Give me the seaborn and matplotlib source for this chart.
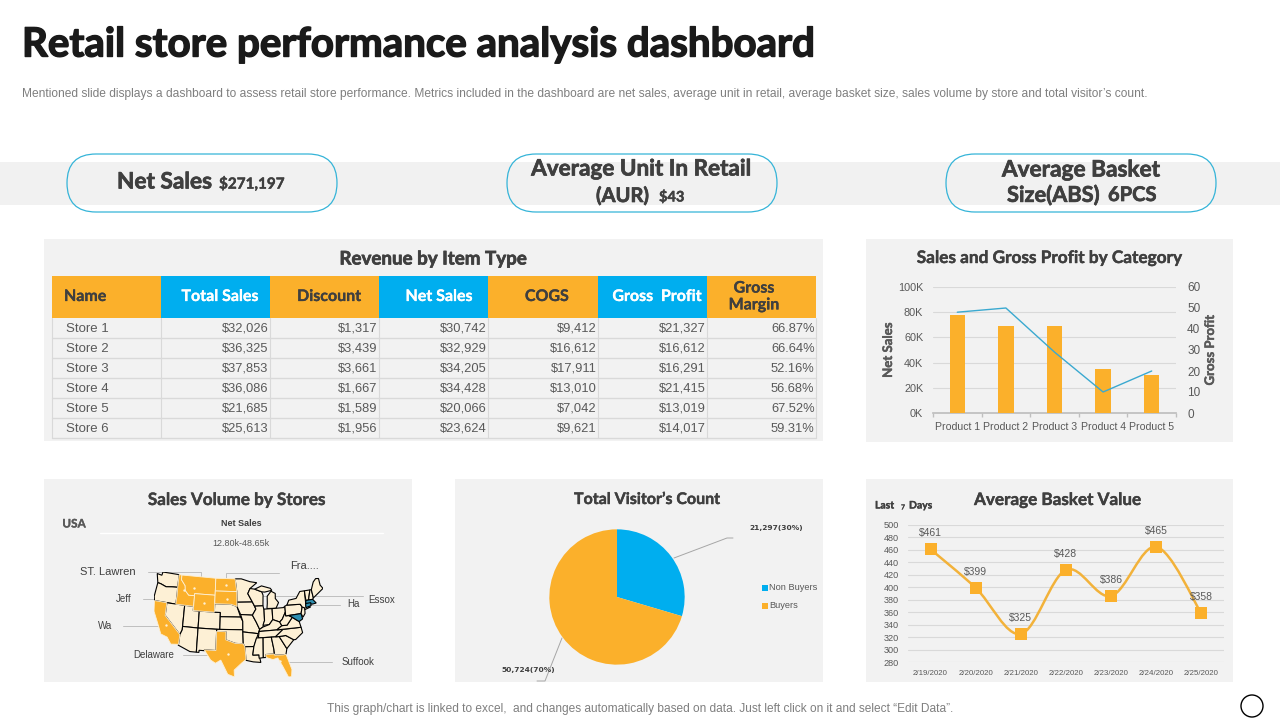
import numpy as np
import pandas as pd
import matplotlib
matplotlib.use("Agg")
import matplotlib.pyplot as plt
import matplotlib.patheffects as pe
from matplotlib.patches import Rectangle, FancyBboxPatch, PathPatch, Circle
from matplotlib.path import Path
import seaborn as sns

W, H = 1280, 720
ORANGE = "#fbb02b"
BLUE = "#00aeef"
PANEL = "#f2f2f2"
DARK = "#3f3f3f"
GREY = "#595959"
LIGHT = "#d9d9d9"
HEAD_FONT = "Lato"
BODY_FONT = "Liberation Sans"

# table
table_columns = ["Name", "Total Sales", "Discount", "Net Sales", "COGS", "Gross  Profit", "Gross\nMargin"]
stores = ["Store 1", "Store 2", "Store 3", "Store 4", "Store 5", "Store 6"]
total_sales = ["$32,026", "$36,325", "$37,853", "$36,086", "$21,685", "$25,613"]
discount = ["$1,317", "$3,439", "$3,661", "$1,667", "$1,589", "$1,956"]
net_sales_tbl = ["$30,742", "$32,929", "$34,205", "$34,428", "$20,066", "$23,624"]
cogs = ["$9,412", "$16,612", "$17,911", "$13,010", "$7,042", "$9,621"]
gross_profit_tbl = ["$21,327", "$16,612", "$16,291", "$21,415", "$13,019", "$14,017"]
gross_margin = ["66.87%", "66.64%", "52.16%", "56.68%", "67.52%", "59.31%"]

# combo chart
products = ["Product 1", "Product 2", "Product 3", "Product 4", "Product 5"]
net_sales = [78000, 69000, 69000, 35000, 30000]
gross_profit = [48, 50, 29, 10, 20]

# pie
visitor_labels = ["Non Buyers", "Buyers"]
visitor_counts = [21297, 50724]

# basket line
basket_dates = ["2/19/2020", "2/20/2020", "2/21/2020", "2/22/2020", "2/23/2020", "2/24/2020", "2/25/2020"]
basket_values = [461, 399, 325, 428, 386, 465, 358]

# rough state outlines, lon/lat
states = {
    "WA": [(-124.7,48.4),(-123,48.2),(-122.8,49),(-117,49),(-117,46),(-119,45.9),(-121,45.7),(-123,46.2),(-124,46.3)],
    "OR": [(-124,46.3),(-123,46.2),(-121,45.7),(-119,45.9),(-117,46),(-116.9,44.2),(-117,42),(-124.2,42),(-124.5,43)],
    "CA": [(-124.2,42),(-120,42),(-120,39),(-114.6,35),(-114.7,32.7),(-117.1,32.5),(-118.5,34),(-120.6,34.5),(-122,36.8),(-123.8,39.5)],
    "NV": [(-120,42),(-114,42),(-114,36.2),(-114.6,35),(-120,39)],
    "ID": [(-117,49),(-116,49),(-116,47.9),(-114.5,46.6),(-114.3,45.5),(-113,44.5),(-111,44.5),(-111,42),(-117,42),(-116.9,44.2),(-117,46)],
    "MT": [(-116,49),(-104,49),(-104,45),(-111,45),(-111,44.5),(-113,44.5),(-114.3,45.5),(-114.5,46.6),(-116,47.9)],
    "WY": [(-111,45),(-104,45),(-104,41),(-111,41)],
    "UT": [(-114,42),(-111,42),(-111,41),(-109,41),(-109,37),(-114,37)],
    "CO": [(-109,41),(-102,41),(-102,37),(-109,37)],
    "AZ": [(-114,37),(-109,37),(-109,31.3),(-111,31.3),(-114.8,32.5),(-114.7,32.7),(-114.6,35),(-114,36.2)],
    "NM": [(-109,37),(-103,37),(-103,32),(-106.6,32),(-106.5,31.8),(-108.2,31.8),(-108.2,31.3),(-109,31.3)],
    "ND": [(-104,49),(-97.2,49),(-96.6,46),(-104,46)],
    "SD": [(-104,46),(-96.6,46),(-96.5,42.5),(-98.5,43),(-104,43)],
    "NE": [(-104,43),(-98.5,43),(-96.5,42.5),(-95.3,40),(-102,40),(-102,41),(-104,41)],
    "KS": [(-102,40),(-95.3,40),(-94.6,39),(-94.6,37),(-102,37)],
    "OK": [(-103,37),(-94.6,37),(-94.5,33.7),(-97,33.8),(-100,34.6),(-100,36.5),(-103,36.5)],
    "TX": [(-106.6,32),(-103,32),(-103,36.5),(-100,36.5),(-100,34.6),(-97,33.8),(-94.5,33.7),(-94,33),(-93.7,30),(-95,29.2),(-97.3,27.5),(-97.2,25.9),(-99.2,26.5),(-101.4,29.8),(-103,29),(-104.5,29.7)],
    "MN": [(-97.2,49),(-95,49),(-92,48.3),(-89.6,48),(-92,46.7),(-92.8,45.5),(-91.3,43.5),(-96.5,43.5),(-96.6,46)],
    "IA": [(-96.5,43.5),(-91.3,43.5),(-90.2,41.8),(-91.4,40.4),(-95.3,40.6),(-96.5,42.5)],
    "MO": [(-95.3,40.6),(-91.4,40.4),(-90.2,38.7),(-89.2,37),(-89.7,36),(-94.6,36.5),(-94.6,39)],
    "AR": [(-94.6,36.5),(-89.7,36),(-91.2,33),(-94,33),(-94.5,33.7)],
    "LA": [(-94,33),(-91.2,33),(-91.6,31),(-89.7,31),(-89.2,29.2),(-91.5,29.4),(-93.7,29.8)],
    "WI": [(-92,46.7),(-90.4,46.5),(-88,45.8),(-87.6,45),(-87.8,42.5),(-90.6,42.5),(-91.3,43.5),(-92.8,45.5)],
    "IL": [(-90.6,42.5),(-87.8,42.5),(-87.5,41.5),(-87.5,39),(-88.1,37.5),(-89.2,37),(-90.2,38.7),(-91.4,40.4),(-90.2,41.8)],
    "MI": [(-86.5,41.8),(-83.5,41.7),(-82.5,43),(-83.5,44),(-83.4,45.2),(-84.8,45.8),(-86.2,44.7),(-86.3,43)],
    "UP": [(-90.4,46.5),(-88,47.2),(-85,46.5),(-84.5,46),(-87,45.7),(-88,45.8)],
    "IN": [(-87.5,41.7),(-84.8,41.7),(-84.8,39.1),(-86,38),(-88.1,37.9),(-87.5,39)],
    "OH": [(-84.8,41.7),(-83.5,41.7),(-81,41.7),(-80.5,42),(-80.5,40.6),(-81.7,39),(-82.6,38.4),(-84.8,39.1)],
    "KY": [(-89.2,37),(-88.1,37.5),(-86,38),(-84.8,39.1),(-82.6,38.4),(-82,37.5),(-83.7,36.6),(-89.4,36.5)],
    "TN": [(-89.7,35),(-89.4,36.5),(-83.7,36.6),(-81.7,36.6),(-84.3,35)],
    "MS": [(-91.2,33),(-90.3,35),(-88.2,35),(-88.4,30.3),(-89.7,30.2),(-89.7,31),(-91.6,31)],
    "AL": [(-88.2,35),(-85.6,35),(-85,32),(-85,31),(-87.6,31),(-87.5,30.3),(-88.4,30.3)],
    "GA": [(-85.6,35),(-83.1,35),(-81,32),(-81.4,30.7),(-82.2,30.6),(-84.9,30.7),(-85,32)],
    "FL": [(-87.6,31),(-85,31),(-84.9,30.7),(-82.2,30.6),(-81.4,30.7),(-80,27),(-80.3,25.3),(-81.2,25.3),(-82.7,28),(-84,30),(-85.5,29.7),(-87.5,30.3)],
    "SC": [(-83.1,35),(-81,35.1),(-78.6,33.9),(-81,32)],
    "NC": [(-84.3,35),(-81.7,36.6),(-75.9,36.6),(-75.6,35.3),(-78,33.9),(-78.6,33.9),(-81,35.1),(-83.1,35)],
    "VA": [(-83.7,36.6),(-75.9,36.6),(-76.3,38),(-77.2,38.5),(-78.4,39.2),(-80.3,37.5),(-82,37.5)],
    "WV": [(-82.6,38.4),(-81.7,39),(-80.5,40.6),(-80.5,39.7),(-79.5,39.7),(-78.4,39.2),(-80.3,37.5),(-82,37.5)],
    "PA": [(-80.5,42),(-79.8,42.2),(-75.3,42),(-74.8,41.3),(-75.4,39.8),(-80.5,39.7)],
    "MD": [(-79.5,39.7),(-75.4,39.8),(-75.1,38.5),(-76.3,38),(-77.2,38.5),(-78.4,39.2)],
    "NJ": [(-74.8,41.3),(-74,41),(-74.1,39.7),(-74.9,38.9),(-75.4,39.8)],
    "NY": [(-79.8,42.2),(-79,43.3),(-76.5,43.5),(-75,45),(-73.4,45),(-73.5,41.3),(-72,41),(-74,40.6),(-74,41),(-74.8,41.3),(-75.3,42)],
    "VT": [(-73.4,45),(-71.5,45),(-72.4,42.7),(-73.3,42.7)],
    "NH": [(-71.5,45),(-71,45),(-70.7,43),(-71,42.7),(-72.4,42.7)],
    "ME": [(-71,45),(-70,46.7),(-69,47.4),(-68,47.3),(-67.8,45.7),(-67,44.8),(-70.7,43)],
    "MA": [(-73.3,42.7),(-71,42.7),(-70,41.7),(-71.3,41.6),(-73.5,42)],
    "CT": [(-73.5,42),(-71.8,42),(-71.8,41.3),(-73.6,41)],
}
orange_states = ["CA", "ID", "MT", "WY", "ND", "SD", "TX", "FL"]
blue_states = ["MA", "CT", "MD"]


def px_axes(x0, y0, x1, y1):
    ax = fig.add_axes([x0 / W, 1 - y1 / H, (x1 - x0) / W, (y1 - y0) / H])
    ax.patch.set_alpha(0)
    return ax


def head(x, y, s, size, color=DARK, ha="center", weight=0.5):
    t = bg.text(x, y, s, fontsize=size, fontweight="bold", family=HEAD_FONT, color=color,
                ha=ha, va="center", linespacing=1.25, zorder=5)
    t.set_path_effects([pe.withStroke(linewidth=weight, foreground=color)])
    return t


def body(x, y, s, size, color=GREY, ha="center", weight="normal"):
    return bg.text(x, y, s, fontsize=size, family=BODY_FONT, color=color, ha=ha, va="center",
                   fontweight=weight, zorder=5)


def conic(outline):
    # flattened conic, the source map bends less than a true one
    lon, lat = np.array(outline).T
    theta = np.radians(0.35 * (lon + 96))
    rho = 170 - lat
    return rho * np.sin(theta), 170 - rho * np.cos(theta)


sns.set_theme(style="white")
plt.rcParams["font.family"] = [BODY_FONT, "DejaVu Sans"]

fig = plt.figure(figsize=(W / 100, H / 100), dpi=100, facecolor="white")
bg = fig.add_axes([0, 0, 1, 1])
bg.set_xlim(0, W)
bg.set_ylim(H, 0)
bg.axis("off")

# heading
head(22, 45, "Retail store performance analysis dashboard", 29, color="#1a1a1a", ha="left", weight=1.0)
body(22, 93.5, "Mentioned slide displays a dashboard to assess retail store performance. Metrics included in the "
     "dashboard are net sales, average unit in retail, average basket size, sales volume by store and total visitor’s count.",
     8.67, color="#7f7f7f", ha="left")

# KPI band and pills
bg.add_patch(Rectangle((0, 162), W, 43, color="#f1f1f1", lw=0))
for x0 in [67, 507, 946]:
    bg.add_patch(FancyBboxPatch((x0, 154), 270, 58, boxstyle="round,pad=0,rounding_size=29",
                                fc="none", ec="#35b4d8", lw=0.9))
head(117, 182, "Net Sales", 16.3, ha="left")
head(219, 184, "$271,197", 11, ha="left", weight=0.3)
head(641, 169, "Average Unit In Retail", 16.2)
head(596, 196, "(AUR)", 14.5, ha="left")
head(659, 197, "$43", 10.5, ha="left", weight=0.3)
head(1081, 170, "Average Basket", 16.3)
head(1007, 195, "Size(ABS)", 15.7, ha="left")
head(1108, 195, "6PCS", 14.5, ha="left")

# panels
for (x0, y0, x1, y1) in [(44, 239, 823, 441), (866, 239, 1233, 442), (44, 479, 412, 682),
                         (455, 479, 823, 682), (866, 479, 1233, 682)]:
    bg.add_patch(Rectangle((x0, y0), x1 - x0, y1 - y0, color=PANEL, lw=0))

# revenue table
head(433, 259, "Revenue by Item Type", 13.5)
col_x = [52, 161, 270, 379, 488, 598, 707, 816]
head_x = [64, 220, 329, 439, 547, 657, 754]
top, head_bottom, row_h = 276, 318, 20
for i, name in enumerate(table_columns):
    fill = BLUE if i % 2 else ORANGE
    bg.add_patch(Rectangle((col_x[i], top), col_x[i + 1] - col_x[i], head_bottom - top, color=fill, lw=0))
    head(head_x[i], 297, name, 11.5, color="white" if i % 2 else DARK, ha="left" if i == 0 else "center", weight=0.2)

cols = [total_sales, discount, net_sales_tbl, cogs, gross_profit_tbl, gross_margin]
for r, store in enumerate(stores):
    y = head_bottom + row_h * r
    bg.plot([col_x[0], col_x[-1]], [y + row_h, y + row_h], color=LIGHT, lw=1, zorder=2)
    body(66, y + 10.5, store, 9.5, ha="left")
    for c, col in enumerate(cols):
        body(col_x[c + 2] - 1.5, y + 10.5, col[r], 9.3, ha="right")
for x in col_x:
    bg.plot([x, x], [head_bottom, head_bottom + row_h * 6], color=LIGHT, lw=0.8, zorder=2)

# sales and gross profit
head(1050, 258, "Sales and Gross Profit by Category", 12.4, weight=0.3)
ax = px_axes(933, 287, 1176, 413)
combo = pd.DataFrame({"product": products, "net_sales": net_sales, "gross_profit": gross_profit})
sns.barplot(data=combo, x="product", y="net_sales", color=ORANGE, saturation=1, width=0.32, linewidth=0, ax=ax, zorder=3)
ax.set_xlim(-0.5, 4.5)
ax.set_ylim(0, 100000)
ax.set_yticks(range(0, 100001, 20000))
ax.set_yticklabels([f"{v}K" for v in range(0, 101, 20)])
ax.yaxis.grid(True, color=LIGHT, lw=0.8)
ax.set_axisbelow(True)
ax.set_xlabel("")
ax.set_ylabel("")
ax.tick_params(axis="y", labelsize=7.8, labelcolor=GREY, length=0, pad=7)
ax.tick_params(axis="x", labelsize=7.6, labelcolor=GREY, length=0, pad=6.5)
ax.set_xticks(np.arange(-0.5, 5), minor=True)
ax.tick_params(axis="x", which="minor", length=3, color="#bfbfbf", bottom=True)
sns.despine(ax=ax, left=True)
ax.spines["bottom"].set_color("#bfbfbf")

ax2 = ax.twinx()
ax2.patch.set_alpha(0)
sns.lineplot(data=combo, x="product", y="gross_profit", color="#3aa9d0", lw=1, sort=False, ax=ax2, zorder=4)
ax2.set_ylim(0, 60)
ax2.set_yticks(range(0, 61, 10))
ax2.set_ylabel("")
ax2.tick_params(axis="y", labelsize=8.5, labelcolor=GREY, length=0, pad=8)
for side in ax2.spines.values():
    side.set_visible(False)
head(888, 350, "Net Sales", 9.5, color=GREY, weight=0.3).set_rotation(90)
head(1210, 350, "Gross Profit", 9.5, color=GREY, weight=0.3).set_rotation(90)

# sales volume map
head(237, 500, "Sales Volume by Stores", 12.3, weight=0.3)
head(74, 524, "USA", 8.5, color=GREY, weight=0.2)
body(241, 524, "Net Sales", 6.5, color=DARK, weight="bold")
bg.plot([100, 383], [533, 533], color="white", lw=1)
body(241, 543, "12.80k-48.65k", 6.5)

map_ax = px_axes(154, 572, 323, 677)
all_x, all_y = [], []
for code, outline in states.items():
    mx, my = conic(outline)
    all_x.extend(mx)
    all_y.extend(my)
    if code in orange_states:
        map_ax.fill(mx, my, facecolor=ORANGE, edgecolor="#fdf0d5", lw=0.6, zorder=3)
        map_ax.scatter(mx.mean(), my.mean(), s=3, color="#fdf0d5", linewidth=0, zorder=4)
    else:
        fill = "#2e8fb0" if code in blue_states else "#fdf0d5"
        map_ax.fill(mx, my, facecolor=fill, edgecolor="black", lw=0.8, zorder=2)
map_ax.set_xlim(min(all_x), max(all_x))
map_ax.set_ylim(min(all_y), max(all_y))
map_ax.axis("off")

leaders = [[(148, 572), (201, 572), (201, 585)], [(279, 573), (226, 573), (226, 587)],
           [(143, 599), (183, 599)], [(237, 596), (363, 596)], [(307, 605), (340, 605)],
           [(123, 626), (163, 626)], [(183, 655), (223, 655)], [(288, 662), (332, 662)]]
for seg in leaders:
    xs, ys = zip(*seg)
    bg.plot(xs, ys, color="#bfbfbf", lw=0.7, zorder=6)
for x, y, s, size in [(80, 572, "ST. Lawren", 8), (290, 566, "Fra....", 8), (116, 599, "Jeff", 7),
                      (368, 600, "Essox", 7), (347, 604, "Ha", 7), (98, 626, "Wa", 7),
                      (133, 655, "Delaware", 7), (342, 662, "Suffook", 7)]:
    body(x, y, s, size, color=DARK, ha="left")

# visitors pie
head(647, 500, "Total Visitor’s Count", 11.5, weight=0.3)
pie_ax = px_axes(617 - 68, 597 - 68, 617 + 68, 597 + 68)
pie_ax.pie(visitor_counts, colors=[BLUE, ORANGE], startangle=90, counterclock=False, radius=1,
           wedgeprops={"lw": 0})
pie_ax.set_xlim(-1.005, 1.005)
pie_ax.set_ylim(-1.005, 1.005)
bg.plot([674, 727, 733], [558, 538, 538], color="#a6a6a6", lw=0.7)
bg.plot([562, 545, 537], [638, 681, 681], color="#a6a6a6", lw=0.7)
body(776, 528, f"{visitor_counts[0]:,}(30%)", 5.4, color=DARK, weight="bold").set_family("DejaVu Sans")
body(528, 670, f"{visitor_counts[1]:,}(70%)", 5.4, color=DARK, weight="bold").set_family("DejaVu Sans")
for y, s, c in zip([588, 606], visitor_labels, [BLUE, ORANGE]):
    bg.add_patch(Rectangle((761.5, y - 3), 6, 6, color=c, lw=0))
    body(769, y, s, 6.7, ha="left")

# basket value
head(1058, 500, "Average Basket Value", 12.3, weight=0.3)
head(875, 506, "Last ", 7.5, ha="left", weight=0.2)
head(901, 507, "7", 5, ha="left", weight=0.1)
head(909, 506, "Days", 7.5, ha="left", weight=0.2)
ax3 = px_axes(908, 525, 1224, 662)
basket = pd.DataFrame({"date": basket_dates, "value": basket_values})
pos = np.arange(len(basket_values))
pts = np.column_stack([pos, basket_values]).astype(float)
# smoothed line like excel, bezier handles taken from the neighbours
verts = [pts[0]]
codes = [Path.MOVETO]
for i in range(len(pts) - 1):
    p0 = pts[max(i - 1, 0)]
    p1 = pts[i]
    p2 = pts[i + 1]
    p3 = pts[min(i + 2, len(pts) - 1)]
    verts += [p1 + (p2 - p0) / 6, p2 - (p3 - p1) / 6, p2]
    codes += [Path.CURVE4] * 3
ax3.add_patch(PathPatch(Path(verts, codes), fc="none", ec="#f2b23a", lw=1.8, zorder=3))
sns.scatterplot(data=basket, x="date", y="value", marker="s", s=75, color=ORANGE, edgecolor="none", ax=ax3, zorder=4)
for i, v in enumerate(basket_values):
    ax3.annotate(f"${v}", (i, v), xytext=(0, 11.5), textcoords="offset points", ha="center", va="center",
                 fontsize=7.5, color=GREY, zorder=5)
ax3.set_xlim(-0.5, 6.5)
ax3.set_ylim(280, 500)
ax3.set_yticks(range(280, 501, 20))
ax3.yaxis.grid(True, color=LIGHT, lw=0.8)
ax3.set_axisbelow(True)
ax3.set_xlabel("")
ax3.set_ylabel("")
ax3.tick_params(axis="y", labelsize=6.6, labelcolor=GREY, length=0, pad=6.5)
ax3.tick_params(axis="x", labelsize=5.7, labelcolor=GREY, length=0, pad=6)
sns.despine(ax=ax3, left=True, bottom=True)

# footer
body(640, 709, "This graph/chart is linked to excel,  and changes automatically based on data. Just left click on it and select “Edit Data”.",
     8.58, color="#7f7f7f")
bg.add_patch(Circle((1252, 706), 11, fc="white", ec="black", lw=1))

fig.savefig("out.png", dpi=100)
